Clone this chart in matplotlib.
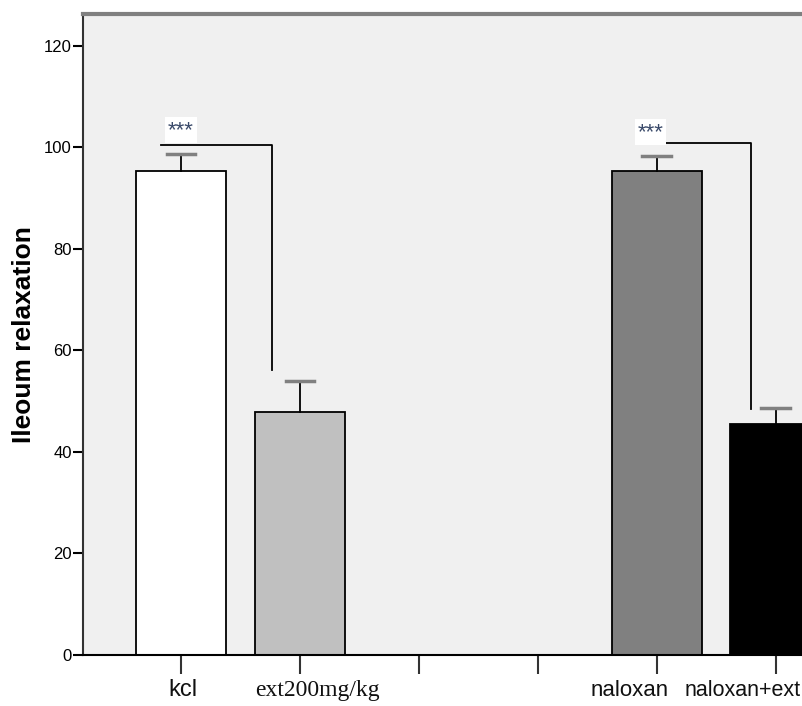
import matplotlib.pyplot as plt
from matplotlib import transforms

# données
groups = ['kcl', 'ext200mg/kg', 'naloxan', 'naloxan+ext']
means = [95.4, 47.9, 95.4, 45.6]
errors = [3.3, 6.1, 3.0, 3.0]
colors = ['white', '#c0c0c0', '#808080', 'black']
y_ticks = [0, 20, 40, 60, 80, 100, 120]

bar_pos = [1, 2, 5, 6]
label_pos = [1.02, 2.15, 4.77, 5.72]
label_fonts = ['Liberation Sans', 'Liberation Serif',
               'Liberation Sans', 'Liberation Sans']
label_sizes = [17, 17, 16, 15.5]

fig = plt.figure(figsize=(8.03, 7.06), dpi=100)
ax = fig.add_axes([83 / 803, 1 - 655 / 706, 720 / 803, 641 / 706])
ax.set_facecolor('#f0f0f0')

ax.bar(bar_pos, means, width=0.76, color=colors, edgecolor='black',
       linewidth=1.3, zorder=2)

# barres d'erreur (vers le haut seulement)
for x, m, e in zip(bar_pos, means, errors):
    ax.plot([x, x], [m, m + e], color='black', lw=1.3, zorder=3)
    ax.plot([x - 0.12, x + 0.12], [m + e, m + e], color='#808080', lw=2.5,
            zorder=3)

# crochets de significativité
ax.plot([0.83, 1.765, 1.765], [100.4, 100.4, 56.2], color='black', lw=1.3,
        zorder=3)
ax.plot([4.9, 5.79, 5.79], [100.9, 100.9, 48.5], color='black', lw=1.3,
        zorder=3)
for x, y in [(1.0, 103.4), (4.95, 103.0)]:
    ax.text(x, y, '***', ha='center', va='center', fontsize=16,
            fontfamily='Liberation Sans', color='#3a4a6a', zorder=4,
            bbox=dict(facecolor='white', edgecolor='none', pad=2))

ax.set_xlim(0.176, 6.23)
ax.set_ylim(0, 126.3)

ax.set_yticks(y_ticks)
ax.set_yticklabels([str(v) for v in y_ticks], fontfamily='Liberation Sans',
                   fontsize=12)
ax.tick_params(axis='y', length=7, width=1.5, pad=1)
ax.set_xticks([1, 2, 3, 4, 5, 6])
ax.set_xticklabels([])
ax.tick_params(axis='x', length=14, width=1.5, color='#333333')

trans = transforms.blended_transform_factory(ax.transData, ax.transAxes)
for x, g, f, s in zip(label_pos, groups, label_fonts, label_sizes):
    ax.text(x, -0.055, g, transform=trans, ha='center', va='center',
            fontsize=s, fontfamily=f, color='#111111')

ax.set_ylabel('Ileoum relaxation', fontsize=19, fontweight='bold',
              fontfamily='Liberation Sans', labelpad=6)

ax.spines['right'].set_visible(False)
ax.spines['top'].set_color('#808080')
ax.spines['top'].set_linewidth(3)
ax.spines['left'].set_linewidth(1.5)
ax.spines['left'].set_color('#333333')
ax.spines['bottom'].set_linewidth(1.5)

plt.savefig('out.png', dpi=100)
